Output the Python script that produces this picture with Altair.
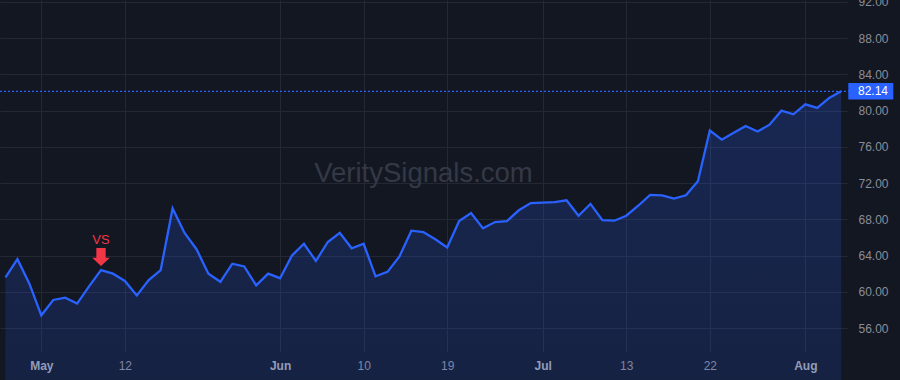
import altair as alt
import pandas as pd

# ---------------- data ----------------
dates = [
    "2020-04-28", "2020-04-29", "2020-04-30", "2020-05-01", "2020-05-04", "2020-05-05",
    "2020-05-06", "2020-05-07", "2020-05-08", "2020-05-11", "2020-05-12", "2020-05-13",
    "2020-05-14", "2020-05-15", "2020-05-18", "2020-05-19", "2020-05-20", "2020-05-21",
    "2020-05-22", "2020-05-26", "2020-05-27", "2020-05-28", "2020-05-29", "2020-06-01",
    "2020-06-02", "2020-06-03", "2020-06-04", "2020-06-05", "2020-06-08", "2020-06-09",
    "2020-06-10", "2020-06-11", "2020-06-12", "2020-06-15", "2020-06-16", "2020-06-17",
    "2020-06-18", "2020-06-19", "2020-06-22", "2020-06-23", "2020-06-24", "2020-06-25",
    "2020-06-26", "2020-06-29", "2020-06-30", "2020-07-01", "2020-07-02", "2020-07-06",
    "2020-07-07", "2020-07-08", "2020-07-09", "2020-07-10", "2020-07-13", "2020-07-14",
    "2020-07-15", "2020-07-16", "2020-07-17", "2020-07-20", "2020-07-21", "2020-07-22",
    "2020-07-23", "2020-07-24", "2020-07-27", "2020-07-28", "2020-07-29", "2020-07-30",
    "2020-07-31", "2020-08-03", "2020-08-04", "2020-08-05", "2020-08-06",
]
prices = [
    61.6, 63.6, 60.9, 57.4, 59.1, 59.35, 58.7, 60.6, 62.4, 62.0,
    61.2, 59.6, 61.3, 62.4, 69.2, 66.5, 64.7, 62.0, 61.1, 63.1,
    62.8, 60.7, 62.0, 61.5, 64.0, 65.3, 63.4, 65.5, 66.5, 64.8,
    65.3, 61.7, 62.2, 63.9, 66.75, 66.6, 65.8, 64.9, 67.8, 68.7,
    67.0, 67.7, 67.8, 69.0, 69.8, 69.85, 69.9, 70.1, 68.4, 69.7,
    67.9, 67.85, 68.4, 69.5, 70.7, 70.65, 70.3, 70.65, 72.2, 77.8,
    76.8, 77.55, 78.3, 77.7, 78.45, 80.0, 79.6, 80.7, 80.3, 81.4,
    82.14,
]
tick_dates = ["2020-05-01", "2020-05-12", "2020-06-01", "2020-06-10", "2020-06-19",
              "2020-07-01", "2020-07-13", "2020-07-22", "2020-08-03"]
tick_labels = ["May", "12", "Jun", "10", "19", "Jul", "13", "22", "Aug"]
month_labels = ["May", "Jun", "Jul", "Aug"]
y_ticks = [56, 60, 64, 68, 72, 76, 80, 84, 88, 92]
signal_dates = ["2020-05-08"]
signal_labels = ["VS"]
watermark = ["VeritySignals.com"]

# ---------------- styles ----------------
BG = "#131722"
GRID = "#242834"
BLUE = "#2962ff"
RED = "#f23645"
LABEL = "#8a8e98"
MONTH = "#a3a6af"
FONT = "Liberation Sans"

df = pd.DataFrame({"date": dates, "price": prices})
df["i"] = range(len(df))

tick_idx = [dates.index(d) for d in tick_dates]
month_idx = [i for i, l in zip(tick_idx, tick_labels) if l in month_labels]

label_expr = "''"
for idx, lab in reversed(list(zip(tick_idx, tick_labels))):
    label_expr = f"datum.value == {idx} ? '{lab}' : ({label_expr})"
month_test = "indexof([" + ",".join(str(i) for i in month_idx) + "], datum.value) >= 0"

df_last = df.iloc[[-1]].copy()
df_sig = df[df["date"].isin(signal_dates)].copy()
df_sig["label"] = signal_labels
df_wm = pd.DataFrame({"t": watermark})

x_scale = alt.Scale(domain=[-0.46, 70.49], nice=False, zero=False)
y_scale = alt.Scale(domain=[53.35, 92.22], nice=False, zero=False)

x_axis = alt.Axis(
    values=tick_idx, labelExpr=label_expr, grid=True, gridColor=GRID, domain=False,
    ticks=False, labelPadding=8, labelFontSize=12, labelFont=FONT, tickCount=40,
    labelColor={"condition": {"test": month_test, "value": MONTH}, "value": LABEL},
    labelFontWeight={"condition": {"test": month_test, "value": "bold"}, "value": "normal"},
    labelOverlap=False, title=None,
)
y_axis = alt.Axis(
    orient="right", values=y_ticks, format=".2f", grid=True, gridColor=GRID,
    domain=False, ticks=False, labelPadding=11, labelFontSize=12, labelFont=FONT,
    labelColor=LABEL, labelOverlap=False, title=None, labelBaseline="middle",
    tickCount=40,
)

base = alt.Chart(df)
X = alt.X("i:Q", scale=x_scale, axis=x_axis)
Y = alt.Y("price:Q", scale=y_scale, axis=y_axis)

wm = alt.Chart(df_wm).mark_text(
    fontSize=27.5, font=FONT, color="#353945", align="center", baseline="alphabetic"
).encode(x=alt.value(423.5), y=alt.value(181.7), text="t:N")

area = base.mark_area(
    color=alt.Gradient(
        gradient="linear",
        stops=[alt.GradientStop(color="rgba(41,98,255,0.22)", offset=0),
               alt.GradientStop(color="rgba(41,98,255,0.03)", offset=1)],
        x1=1, x2=1, y1=0, y2=1,
    )
).encode(x=X, y=Y)

line = base.mark_line(color=BLUE, strokeWidth=2.3).encode(x=X, y=Y)

rule = alt.Chart(df_last).mark_rule(color=BLUE, strokeDash=[2, 2], strokeWidth=1.3).encode(
    y=alt.Y("price:Q", scale=y_scale, axis=y_axis), x=alt.value(0), x2=alt.value(849)
)

box = alt.Chart(df_last).mark_point(
    shape="M-1,-0.37L1,-0.37L1,0.37L-1,0.37Z", size=2025, filled=True,
    color=BLUE, opacity=1, strokeWidth=0,
).encode(x=alt.value(870.8), y=alt.Y("price:Q", scale=y_scale, axis=y_axis))

box_text = alt.Chart(df_last).mark_text(
    color="#ffffff", fontSize=12, font=FONT, align="left", baseline="middle"
).encode(x=alt.value(858), y=alt.Y("price:Q", scale=y_scale, axis=y_axis),
         text=alt.Text("price:Q", format=".2f"))

arrow = alt.Chart(df_sig).mark_point(
    shape="M-0.53,-2.5L0.53,-2.5L0.53,-1.41L1,-1.41L0,-0.45L-1,-1.41L-0.53,-1.41Z",
    size=310, filled=True, color=RED, opacity=1, strokeWidth=0,
).encode(x=alt.X("i:Q", scale=x_scale, axis=x_axis), y=alt.Y("price:Q", scale=y_scale, axis=y_axis))

sig_text = alt.Chart(df_sig).mark_text(
    color=RED, fontSize=13, font=FONT, align="center", baseline="alphabetic", dy=-26.4
).encode(x=alt.X("i:Q", scale=x_scale, axis=x_axis), y=alt.Y("price:Q", scale=y_scale, axis=y_axis),
         text="label:N")

chart = alt.layer(wm, area, line, rule, box, box_text, arrow, sig_text).properties(
    width=847, height=352,
    autosize=alt.AutoSizeParams(type="none"),
    padding={"left": 0, "top": 0, "right": 53, "bottom": 28},
    background=BG,
).configure_view(strokeWidth=0)

chart.save("out.html", embed_options={"renderer": "svg", "actions": False})
